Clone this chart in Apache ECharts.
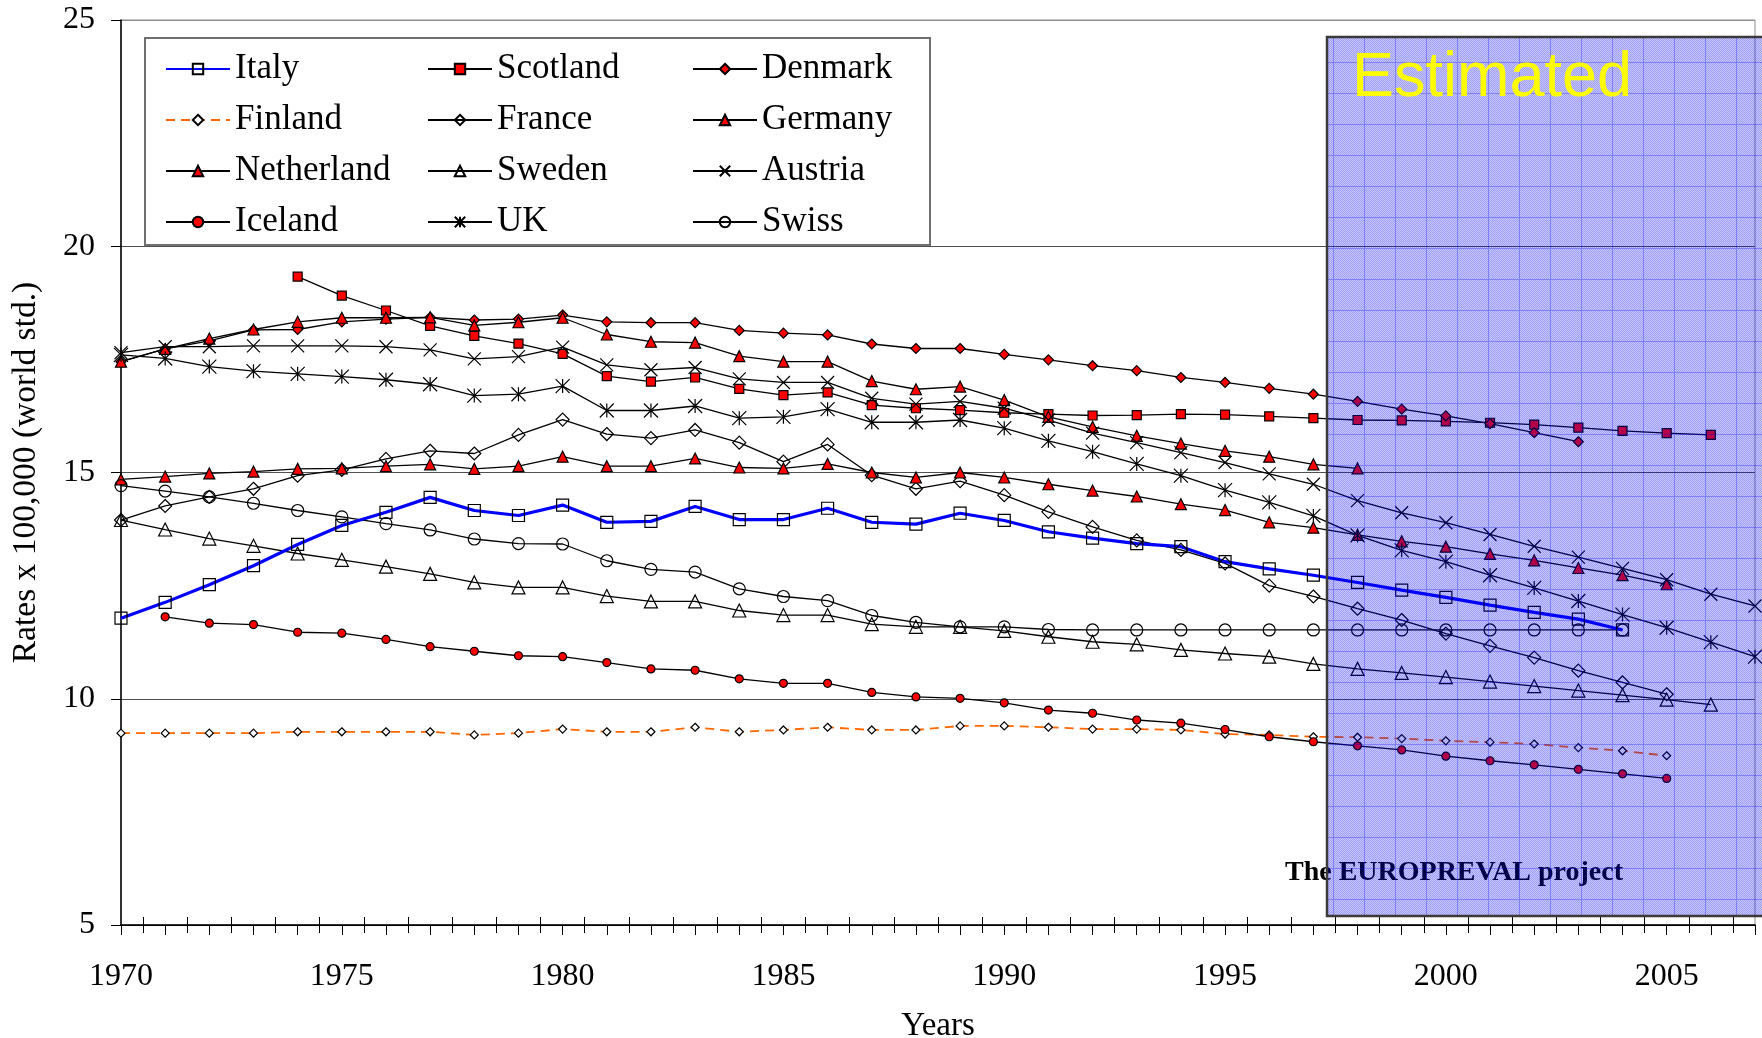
<!DOCTYPE html>
<html>
<head>
<meta charset="utf-8">
<script src="https://cdn.jsdelivr.net/npm/echarts@6/dist/echarts.min.js"></script>
<style>html,body{margin:0;padding:0;background:#fff}#c{width:1762px;height:1038px}</style>
</head>
<body>
<div id="c"></div>
<script>
// ---- Data (rates x 100,000, world std.) ----
const xTicks = [1970, 1975, 1980, 1985, 1990, 1995, 2000, 2005];
const italyStart = 1970;
const italy = [11.78,12.13,12.52,12.94,13.41,13.83,14.12,14.45,14.16,14.05,14.28,13.90,13.92,14.25,13.96,13.96,14.21,13.90,13.86,14.10,13.94,13.69,13.55,13.43,13.36,13.03,12.87,12.73,12.57,12.40,12.24,12.07,11.91,11.76,11.52];
const scotlandStart = 1974;
const scotland = [19.33,18.91,18.58,18.24,18.02,17.85,17.62,17.13,17.01,17.10,16.85,16.71,16.77,16.49,16.42,16.38,16.32,16.29,16.26,16.27,16.29,16.28,16.24,16.20,16.16,16.15,16.13,16.10,16.06,15.99,15.92,15.87,15.83];
const denmarkStart = 1970;
const denmark = [17.45,17.73,17.91,18.15,18.16,18.33,18.39,18.43,18.37,18.39,18.48,18.33,18.31,18.31,18.14,18.08,18.04,17.84,17.74,17.74,17.61,17.49,17.36,17.25,17.10,16.99,16.86,16.73,16.57,16.40,16.25,16.08,15.88,15.68];
const finlandStart = 1970;
const finland = [9.24,9.24,9.24,9.24,9.27,9.27,9.27,9.27,9.20,9.24,9.33,9.27,9.27,9.37,9.27,9.31,9.37,9.31,9.31,9.40,9.40,9.37,9.33,9.33,9.31,9.22,9.20,9.16,9.15,9.12,9.07,9.04,9.00,8.92,8.85,8.74];
const franceStart = 1970;
const france = [13.95,14.26,14.46,14.64,14.93,15.06,15.30,15.48,15.42,15.83,16.17,15.85,15.76,15.94,15.66,15.24,15.62,14.94,14.64,14.81,14.50,14.13,13.80,13.50,13.29,12.99,12.50,12.26,11.99,11.74,11.44,11.17,10.91,10.62,10.36,10.10];
const germanyStart = 1970;
const germany = [17.45,17.73,17.96,18.16,18.33,18.42,18.42,18.43,18.25,18.32,18.42,18.05,17.89,17.87,17.57,17.45,17.45,17.02,16.84,16.90,16.60,16.23,16.01,15.81,15.64,15.48,15.35,15.18,15.09];
const netherlandStart = 1970;
const netherland = [14.85,14.91,14.98,15.02,15.08,15.09,15.14,15.18,15.08,15.14,15.35,15.14,15.14,15.31,15.11,15.09,15.19,15.00,14.89,15.00,14.89,14.74,14.60,14.47,14.30,14.17,13.90,13.78,13.62,13.48,13.36,13.20,13.06,12.89,12.73,12.53];
const swedenStart = 1970;
const sweden = [13.95,13.74,13.54,13.38,13.21,13.07,12.92,12.76,12.57,12.46,12.46,12.27,12.15,12.15,11.95,11.85,11.85,11.65,11.59,11.59,11.50,11.37,11.26,11.20,11.08,11.00,10.93,10.77,10.66,10.57,10.48,10.38,10.28,10.18,10.08,9.98,9.87];
const austriaStart = 1970;
const austria = [17.65,17.78,17.78,17.80,17.80,17.80,17.78,17.71,17.51,17.56,17.77,17.38,17.27,17.32,17.07,16.99,16.99,16.64,16.51,16.57,16.42,16.16,15.87,15.66,15.44,15.22,14.97,14.74,14.38,14.11,13.89,13.63,13.37,13.13,12.88,12.63,12.31,12.05];
const icelandStart = 1971;
const iceland = [11.81,11.67,11.64,11.47,11.45,11.31,11.15,11.05,10.95,10.93,10.80,10.66,10.63,10.44,10.34,10.34,10.14,10.04,10.01,9.91,9.75,9.68,9.53,9.46,9.32,9.16,9.05,8.96,8.87,8.73,8.63,8.54,8.44,8.34,8.24];
const ukStart = 1970;
const uk = [17.60,17.52,17.34,17.24,17.18,17.12,17.05,16.95,16.70,16.73,16.91,16.37,16.37,16.47,16.20,16.23,16.40,16.11,16.11,16.16,15.98,15.70,15.46,15.19,14.93,14.61,14.34,14.04,13.61,13.28,13.03,12.73,12.45,12.16,11.86,11.57,11.25,10.93];
const swissStart = 1970;
const swiss = [14.71,14.59,14.46,14.32,14.16,14.02,13.87,13.73,13.53,13.43,13.42,13.05,12.86,12.80,12.43,12.26,12.17,11.84,11.69,11.59,11.59,11.53,11.52,11.52,11.52,11.52,11.52,11.52,11.52,11.52,11.52,11.52,11.52,11.52,11.52];

function pairs(start, vals) { return vals.map((v, i) => [start + i, v]); }

const SERIF = '"Liberation Serif", "Times New Roman", serif';
const SANS = '"Liberation Sans", Arial, sans-serif';
const PATH_X = 'path://M0,0L10,10M10,0L0,10';
const PATH_STAR = 'path://M0,0L10,10M10,0L0,10M5,0L5,10';
const CLEAR = 'rgba(0,0,0,0)';

function mk(name, start, vals, symbol, size, fill, lineColor, lineWidth, dash) {
  return {
    name: name, type: 'line', data: pairs(start, vals),
    symbol: symbol, symbolSize: size, showAllSymbol: true,
    itemStyle: { color: fill, borderColor: '#000', borderWidth: 1.2 },
    lineStyle: { color: lineColor, width: lineWidth, type: dash || 'solid' },
    emphasis: { disabled: true }, silent: true, z: 2
  };
}

const series = [
  mk('Scotland', scotlandStart, scotland, 'rect', 9, '#FF0000', '#000', 1.3),
  mk('Denmark', denmarkStart, denmark, 'diamond', 10, '#FF0000', '#000', 1.3),
  mk('Finland', finlandStart, finland, 'diamond', 8, '#FFFFFF', '#FF6600', 1.8, [9, 6]),
  mk('France', franceStart, france, 'diamond', 13, CLEAR, '#000', 1.3),
  mk('Germany', germanyStart, germany, 'triangle', 11, '#FF0000', '#000', 1.3),
  mk('Netherland', netherlandStart, netherland, 'triangle', 11, '#FF0000', '#000', 1.3),
  mk('Sweden', swedenStart, sweden, 'triangle', 13, CLEAR, '#000', 1.3),
  mk('Austria', austriaStart, austria, PATH_X, 13, CLEAR, '#000', 1.3),
  mk('Iceland', icelandStart, iceland, 'circle', 8, '#FF0000', '#000', 1.3),
  mk('UK', ukStart, uk, PATH_STAR, 14, CLEAR, '#000', 1.3),
  mk('Swiss', swissStart, swiss, 'circle', 12, CLEAR, '#000', 1.3),
  mk('Italy', italyStart, italy, 'rect', 12, CLEAR, '#0000FF', 3.2)
];

function makePattern() {
  const n = 31;
  const c = document.createElement('canvas');
  c.width = n; c.height = n;
  const g = c.getContext('2d');
  const img = g.createImageData(n, n);
  for (let y = 0; y < n; y++) {
    for (let x = 0; x < n; x++) {
      const i = (y * n + x) * 4;
      let a = ((x + y) % 2 === 0) ? 0.22 : 0.38;
      if (x === 0 || y === 0) a = 0.5;
      img.data[i] = 0; img.data[i + 1] = 0; img.data[i + 2] = 240;
      img.data[i + 3] = Math.round(a * 255);
    }
  }
  g.putImageData(img, 0, 0);
  return c;
}

function legendCol(left, names) {
  return {
    orient: 'vertical', left: left, top: 51, padding: 0,
    itemWidth: 64, itemHeight: 13, itemGap: 15,
    selectedMode: false,
    data: names,
    textStyle: { fontFamily: SERIF, fontSize: 35, color: '#000', lineHeight: 36, padding: [0, 0, 0, 0] }
  };
}

const chart = echarts.init(document.getElementById('c'), null, { renderer: 'canvas', width: 1762, height: 1038 });
chart.setOption({
  animation: false,
  backgroundColor: '#fff',
  grid: { left: 121, right: 7, top: 20, bottom: 113, containLabel: false, outerBoundsMode: 'none',
          show: true, borderColor: '#8c8c8c', borderWidth: 1, backgroundColor: 'transparent' },
  legend: [
    legendCol(165, ['Italy', 'Finland', 'Netherland', 'Iceland']),
    legendCol(427, ['Scotland', 'France', 'Sweden', 'UK']),
    legendCol(692, ['Denmark', 'Germany', 'Austria', 'Swiss'])
  ],
  xAxis: [{
    type: 'value', min: 1970, max: 2007, interval: 1,
    name: 'Years', nameLocation: 'middle', nameGap: 85,
    nameTextStyle: { fontFamily: SERIF, fontSize: 33, color: '#000' },
    axisLine: { show: true, lineStyle: { color: '#000', width: 1.5 } },
    axisTick: { show: true, length: 10, lineStyle: { color: '#000', width: 1 } },
    minorTick: { show: true, splitNumber: 2, length: 8, lineStyle: { color: '#000', width: 1 } },
    axisLabel: {
      margin: 36, fontFamily: SERIF, fontSize: 32, color: '#000',
      formatter: v => (xTicks.indexOf(v) >= 0 ? String(v) : '')
    },
    splitLine: { show: false }
  }, {
    type: 'value', min: 1970, max: 2007, interval: 1, position: 'bottom',
    axisLine: { show: false },
    axisTick: { show: false, inside: true },
    minorTick: { show: true, splitNumber: 2, length: 8, lineStyle: { color: '#000', width: 1 } },
    axisLabel: { show: false },
    splitLine: { show: false }
  }],
  yAxis: {
    type: 'value', min: 5, max: 25, interval: 5,
    name: 'Rates x 100,000 (world std.)', nameLocation: 'middle', nameGap: 78,
    nameTextStyle: { fontFamily: SERIF, fontSize: 33.5, color: '#000' },
    axisLine: { show: true, lineStyle: { color: '#000', width: 1.5 } },
    axisTick: { show: true, length: 10, lineStyle: { color: '#000', width: 1 } },
    axisLabel: { margin: 26, fontFamily: SERIF, fontSize: 32, color: '#000' },
    splitLine: { show: true, lineStyle: { color: ['#000', '#505050', '#505050', '#505050', '#8c8c8c'], width: 1.2 } }
  },
  series: series,
  graphic: [
    { type: 'rect', z: 3, silent: true, shape: { x: 145, y: 38, width: 785, height: 207 },
      style: { fill: '#fff', stroke: '#707070', lineWidth: 2 } },
    { type: 'text', z: 60, silent: true,
      style: { text: 'The EUROPREVAL project', x: 1454, y: 873, align: 'center', verticalAlign: 'middle',
               font: 'bold 28px ' + SERIF, fill: '#000' } },
    { type: 'rect', z: 100, silent: true, shape: { x: 1327, y: 37, width: 445, height: 879 },
      style: { fill: { image: makePattern(), repeat: 'repeat' }, stroke: '#3a3a3a', lineWidth: 2.5 } },
    { type: 'text', z: 101, silent: true,
      style: { text: 'Estimated', x: 1352, y: 79, verticalAlign: 'middle',
               font: '63px ' + SANS, fill: '#FFFF00' } }
  ]
});
</script>
</body>
</html>
